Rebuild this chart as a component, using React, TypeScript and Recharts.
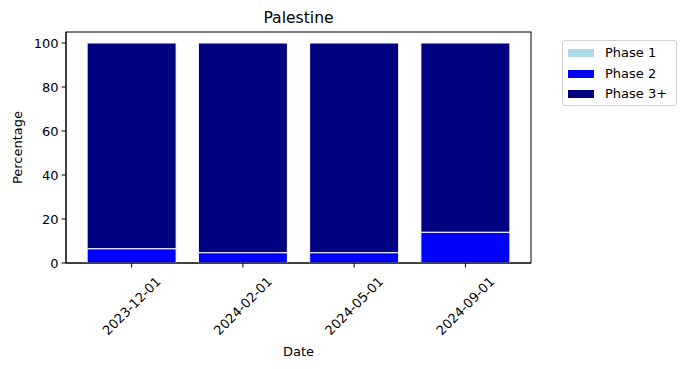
import React from 'react';
import { BarChart, Bar, XAxis, YAxis } from 'recharts';

const dates = ['2023-12-01', '2024-02-01', '2024-05-01', '2024-09-01'];
const phase1 = [0, 0, 0, 0];
const phase2 = [6.5, 4.7, 4.7, 14];
const phase3 = [93.5, 95.3, 95.3, 86];
const yTicks = [0, 20, 40, 60, 80, 100];

const series = [
  { key: 'p1', name: 'Phase 1', color: '#add8e6' },
  { key: 'p2', name: 'Phase 2', color: '#0000ff' },
  { key: 'p3', name: 'Phase 3+', color: '#000080' },
];

const data = dates.map((d, i) => ({ date: d, p1: phase1[i], p2: phase2[i], p3: phase3[i] }));

const FONT = 'DejaVu Sans, sans-serif';
const FS = 13;

const RotTick = (props: any) => {
  const { x, y, payload } = props;
  const cy = y + 36.5;
  return (
    <text
      x={x}
      y={cy}
      textAnchor="middle"
      dominantBaseline="central"
      transform={`rotate(-45, ${x}, ${cy})`}
      fontSize={FS}
      fontFamily={FONT}
      fill="#000"
    >
      {payload.value}
    </text>
  );
};

export default function App() {
  return (
    <div style={{ position: 'absolute', left: 0, top: 0, width: 686, height: 369, background: '#fff', fontFamily: FONT }}>
      <BarChart
        width={686}
        height={369}
        data={data}
        margin={{ top: 32, right: 155, left: 0, bottom: 0 }}
        barCategoryGap="10%"
      >
        <XAxis
          dataKey="date"
          height={106}
          padding={{ left: 10, right: 10 }}
          tick={<RotTick />}
          tickLine={{ stroke: '#000' }}
          axisLine={{ stroke: '#000' }}
          tickSize={4.5}
          interval={0}
        />
        <YAxis
          width={66}
          domain={[0, 105]}
          ticks={yTicks}
          type="number"
          allowDataOverflow
          tickSize={4.5}
          tickMargin={3}
          tick={{ fontSize: FS, fontFamily: FONT, fill: '#000' }}
          tickLine={{ stroke: '#000' }}
          axisLine={{ stroke: '#000' }}
        />
        {series.map((s) => (
          <Bar key={s.key} dataKey={s.key} name={s.name} stackId="a" fill={s.color} stroke="#fff" strokeWidth={1} isAnimationActive={false} />
        ))}
        <rect x={66} y={32} width={465} height={231} fill="none" stroke="#000" strokeWidth={1} />
        <text x={298.5} y={18} textAnchor="middle" dominantBaseline="central" fontSize={15.6} fontFamily={FONT} fill="#000">Palestine</text>
        <text x={298.5} y={351} textAnchor="middle" dominantBaseline="central" fontSize={FS} fontFamily={FONT} fill="#000">Date</text>
        <text x={17} y={147.5} textAnchor="middle" dominantBaseline="central" fontSize={FS} fontFamily={FONT} fill="#000" transform="rotate(-90, 17, 147.5)">Percentage</text>
      </BarChart>
      <div
        style={{
          position: 'absolute',
          left: 562,
          top: 40,
          width: 115,
          height: 66,
          border: '1px solid #d0d0d0',
          borderRadius: 3,
          background: '#fff',
          boxSizing: 'border-box',
        }}
      >
        {series.map((s, i) => (
          <div key={s.key} style={{ position: 'absolute', left: 0, top: 0 }}>
            <div style={{ position: 'absolute', left: 5, top: 8 + i * 20.7, width: 26, height: 8, background: s.color }} />
            <div style={{ position: 'absolute', left: 42, top: 3 + i * 20.7, fontSize: FS, lineHeight: '18px', color: '#000', whiteSpace: 'nowrap' }}>{s.name}</div>
          </div>
        ))}
      </div>
    </div>
  );
}
